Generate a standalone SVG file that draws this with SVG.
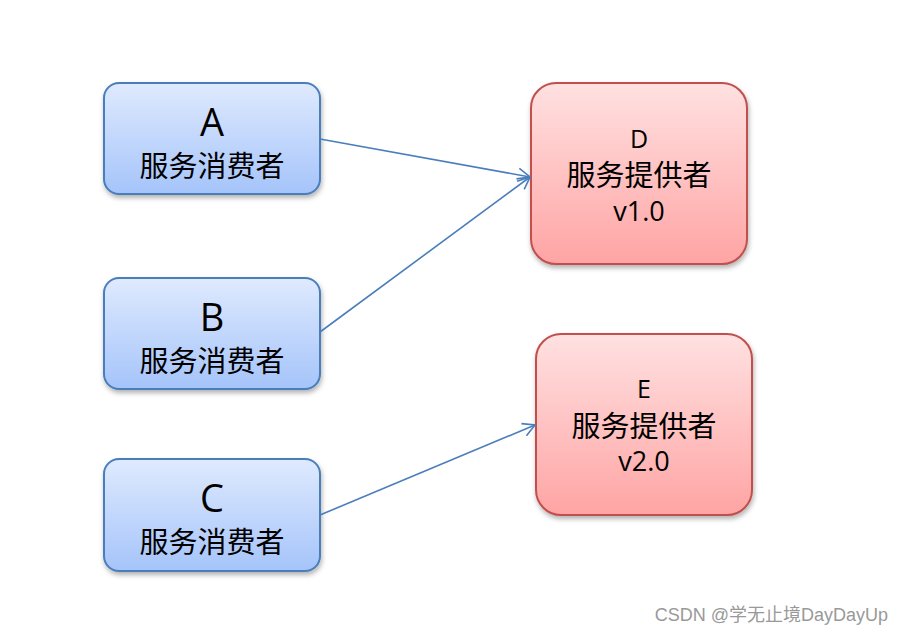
<svg xmlns="http://www.w3.org/2000/svg" width="904" height="635" viewBox="0 0 904 635">
<style>
.t{font-family:"Noto Sans CJK SC","Noto Sans",sans-serif;fill:#000;text-anchor:middle}
.l{font-family:"Open Sans","Noto Sans",sans-serif;fill:#000;text-anchor:middle}
.c{stroke:#4a7ebb;stroke-width:1.6;fill:none}
.bl{fill:url(#gb);stroke:#4a7ebb;stroke-width:2}
.rd{fill:url(#gr);stroke:#c0504d;stroke-width:2}
</style>
<defs>
<linearGradient id="gb" x1="0" y1="0" x2="0" y2="1"><stop offset="0" stop-color="#dfeafe"/><stop offset="1" stop-color="#a5c4fa"/></linearGradient>
<linearGradient id="gr" x1="0" y1="0" x2="0" y2="1"><stop offset="0" stop-color="#ffe1e1"/><stop offset="1" stop-color="#ffa4a4"/></linearGradient>
<filter id="sh" x="-10%" y="-10%" width="130%" height="130%"><feDropShadow dx="1" dy="3" stdDeviation="2.5" flood-color="#000" flood-opacity="0.3"/></filter>
<marker id="ar" markerUnits="userSpaceOnUse" markerWidth="16" markerHeight="16" viewBox="0 0 16 16" refX="14" refY="8" orient="auto"><path d="M2,1.5 L14,8 L2,14.5" fill="none" stroke="#4a7ebb" stroke-width="1.6"/></marker>
</defs>
<rect width="904" height="635" fill="#fff"/>
<g id="A"><rect class="bl" x="104" y="83" width="216" height="111" rx="15" filter="url(#sh)"/><text class="l" x="212" y="136" font-size="38">A</text><text class="t" x="212" y="177" font-size="29">服务消费者</text></g>
<g id="B"><rect class="bl" x="104" y="278" width="216" height="111" rx="15" filter="url(#sh)"/><text class="l" x="212" y="331" font-size="38">B</text><text class="t" x="212" y="372" font-size="29">服务消费者</text></g>
<g id="C"><rect class="bl" x="104" y="459" width="216" height="112" rx="15" filter="url(#sh)"/><text class="l" x="212" y="512" font-size="38">C</text><text class="t" x="212" y="553" font-size="29">服务消费者</text></g>
<g id="D"><rect class="rd" x="531" y="83" width="216" height="181" rx="25" filter="url(#sh)"/><text class="l" x="639" y="148" font-size="25">D</text><text class="t" x="639" y="186" font-size="29">服务提供者</text><text class="l" x="639" y="221" font-size="27">v1.0</text></g>
<g id="E"><rect class="rd" x="536" y="334" width="216" height="181" rx="25" filter="url(#sh)"/><text class="l" x="644" y="398" font-size="25">E</text><text class="t" x="644" y="437" font-size="29">服务提供者</text><text class="l" x="644" y="471" font-size="27">v2.0</text></g>
<g id="connectors">
<line class="c" x1="320" y1="139" x2="530" y2="177" marker-end="url(#ar)"/>
<line class="c" x1="320" y1="332" x2="530" y2="177" marker-end="url(#ar)"/>
<line class="c" x1="320" y1="515" x2="535" y2="425" marker-end="url(#ar)"/>
</g>
<text x="888" y="621" font-family="'Liberation Sans','Noto Sans CJK SC',sans-serif" font-size="18" fill="#999" text-anchor="end">CSDN @学无止境DayDayUp</text>
</svg>
